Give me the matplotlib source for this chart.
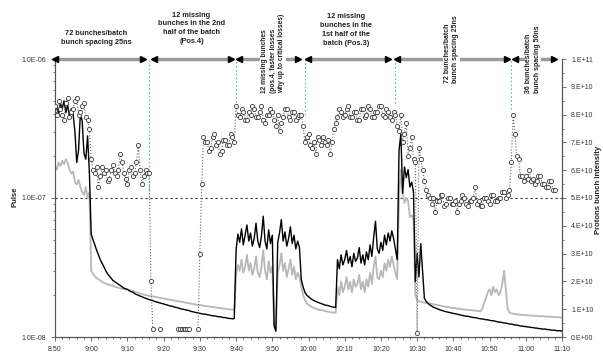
import numpy as np
import matplotlib
matplotlib.use("Agg")
import matplotlib.pyplot as plt
from matplotlib import ticker
import matplotlib.transforms as mtransforms

plt.rcParams['font.family'] = ['Liberation Sans', 'DejaVu Sans']

# pressure readings every 0.5 min from 8:50, in units of 1e-8
p_black = [
    42, 46, 40, 48, 44, 50, 41, 47, 38, 44,
    40, 30, 18, 22, 40, 36, 21, 19, 28, 15,
    5.5, 5.0, 4.6, 4.2, 3.9, 3.6, 3.4, 3.2, 3.0, 2.85,
    2.75, 2.65, 2.55, 2.5, 2.45, 2.4, 2.35, 2.3, 2.25, 2.22,
    2.2, 2.15, 2.12, 2.1, 2.05, 2.02, 2.0, 1.97, 1.95, 1.92,
    1.9, 1.88, 1.86, 1.84, 1.83, 1.8, 1.79, 1.77, 1.76, 1.74,
    1.73, 1.71, 1.7, 1.68, 1.67, 1.66, 1.64, 1.63, 1.62, 1.6,
    1.59, 1.58, 1.57, 1.56, 1.55, 1.53, 1.52, 1.51, 1.5, 1.49,
    1.48, 1.47, 1.46, 1.46, 1.45, 1.44, 1.43, 1.42, 1.42, 1.41,
    1.4, 1.4, 1.39, 1.38, 1.38, 1.37, 1.36, 1.36, 1.35, 1.36,
    4.2, 5.5, 4.8, 6.0, 4.6, 5.4, 6.4, 4.9, 5.6, 4.5,
    5.1, 6.6, 4.9, 4.4, 5.3, 7.4, 4.9, 4.3, 5.9, 4.7,
    5.4, 1.2, 1.1, 4.8, 5.6, 7.0, 4.9, 5.7, 4.5, 5.1,
    6.2, 4.7, 5.4, 4.3, 4.9, 4.4, 2.6, 2.3, 2.1, 2.0,
    1.95, 1.9, 1.86, 1.83, 1.8, 1.78, 1.76, 1.74, 1.72, 1.7,
    1.69, 1.68, 1.66, 1.65, 1.64, 1.63, 3.6, 3.1, 3.9, 3.3,
    3.6, 4.2, 3.4, 3.8, 3.2, 4.0, 3.5, 3.7, 4.4, 3.4,
    3.9, 3.3, 4.1, 3.6, 4.6, 3.8, 5.2, 6.8, 4.3, 4.0,
    4.8, 4.2, 5.4, 4.6, 5.6, 4.9, 5.8, 5.1, 4.3, 3.6,
    22, 29, 10.8, 16.7, 14, 16, 12, 13, 11, 2.5,
    4.0, 2.7, 4.7, 3.0, 1.9, 1.8, 1.75, 1.7, 1.67, 1.64,
    1.62, 1.6, 1.58, 1.56, 1.55, 1.53, 1.52, 1.51, 1.5, 1.49,
    1.48, 1.47, 1.46, 1.45, 1.44, 1.43, 1.42, 1.41, 1.41, 1.4,
    1.39, 1.38, 1.38, 1.37, 1.36, 1.35, 1.35, 1.34, 1.33, 1.33,
    1.32, 1.31, 1.31, 1.3, 1.29, 1.28, 1.28, 1.27, 1.26, 1.26,
    1.25, 1.24, 1.24, 1.23, 1.22, 1.22, 1.21, 1.2, 1.2, 1.19,
    1.19, 1.18, 1.18, 1.17, 1.17, 1.16, 1.16, 1.15, 1.15, 1.14,
    1.14, 1.14, 1.13, 1.13, 1.12, 1.12, 1.12, 1.11, 1.11, 1.11,
    1.1,
]
p_gray = [
    17, 16, 18, 17, 18.5, 17.5, 19, 18, 16, 15,
    15.5, 13, 12.5, 13.5, 12, 11, 10.5, 12, 10, 11,
    3.0, 2.85, 2.75, 2.65, 2.6, 2.55, 2.5, 2.45, 2.42, 2.4,
    2.37, 2.35, 2.33, 2.3, 2.28, 2.26, 2.24, 2.22, 2.21, 2.2,
    2.2, 2.18, 2.16, 2.14, 2.12, 2.1, 2.08, 2.06, 2.04, 2.02,
    2.0, 1.99, 1.98, 1.97, 1.96, 1.95, 1.94, 1.92, 1.91, 1.9,
    1.89, 1.88, 1.87, 1.86, 1.85, 1.84, 1.83, 1.82, 1.81, 1.8,
    1.79, 1.78, 1.77, 1.76, 1.75, 1.74, 1.73, 1.72, 1.71, 1.7,
    1.7, 1.69, 1.68, 1.67, 1.66, 1.66, 1.65, 1.64, 1.64, 1.63,
    1.62, 1.62, 1.61, 1.6, 1.6, 1.59, 1.58, 1.58, 1.57, 1.57,
    2.8, 3.3, 3.0, 3.6, 2.9, 3.2, 3.9, 3.0, 3.4, 2.8,
    3.1, 3.8, 2.9, 2.7, 3.2, 4.2, 3.0, 2.6, 3.5, 2.9,
    3.2, 1.25, 1.15, 2.9, 3.3, 4.0, 3.0, 3.4, 2.7, 3.1,
    3.6, 2.8, 3.2, 2.6, 2.9, 2.7, 2.3, 2.0, 1.85, 1.75,
    1.7, 1.67, 1.64, 1.62, 1.6, 1.58, 1.57, 1.56, 1.55, 1.54,
    1.53, 1.52, 1.51, 1.5, 1.5, 1.49, 2.3, 2.0, 2.5, 2.1,
    2.3, 2.7, 2.2, 2.5, 2.1, 2.6, 2.3, 2.4, 2.8, 2.2,
    2.5, 2.1, 2.6, 2.3, 2.9, 2.4, 3.2, 3.8, 2.7, 2.6,
    3.0, 2.7, 3.4, 3.0, 3.6, 3.2, 3.8, 3.3, 2.9, 2.6,
    10, 16, 10.8, 9.2, 10, 9.5, 7.3, 7.5, 7.0, 2.0,
    1.85, 1.8, 1.8, 1.78, 1.77, 1.76, 1.75, 1.74, 1.73, 1.72,
    1.71, 1.7, 1.69, 1.68, 1.67, 1.66, 1.65, 1.64, 1.63, 1.62,
    1.62, 1.61, 1.6, 1.6, 1.59, 1.58, 1.58, 1.57, 1.57, 1.56,
    1.56, 1.55, 1.55, 1.54, 1.54, 1.53, 1.6, 1.75, 1.9, 2.1,
    2.2, 2.0, 2.3, 2.1, 2.2, 2.0, 2.1, 2.4, 3.0, 2.2,
    1.6, 1.5, 1.48, 1.47, 1.46, 1.46, 1.45, 1.45, 1.44, 1.44,
    1.44, 1.43, 1.43, 1.43, 1.42, 1.42, 1.42, 1.41, 1.41, 1.41,
    1.41, 1.4, 1.4, 1.4, 1.4, 1.39, 1.39, 1.39, 1.39, 1.38,
    1.38,
]

# bunch intensity every 0.5 min from 8:50, in units of 1e10 protons
nan = float('nan')
intensity = [
    8.3, 8.0, 8.5, 8.2, 8.0, 7.8, 8.4, 8.6, 7.9, 8.1,
    8.2, 8.5, 8.6, 8.0, 8.1, 8.3, 8.4, 7.9, 7.8, 7.5,
    6.4, 6.0, 5.9, 6.1, 5.4, 5.8, 6.1, 5.9, 6.0, 5.6,
    5.7, 6.0, 6.2, 5.9, 5.8, 6.0, 6.6, 6.3, 5.9, 5.7,
    5.5, 6.0, 6.1, 5.8, 5.9, 6.3, 6.9, 6.0, 5.5, 5.8,
    6.0, 5.9, 5.9, 2.0, 0.3, nan, nan, nan, 0.3, nan,
    nan, nan, nan, nan, nan, nan, nan, nan, 0.3, 0.3,
    0.3, 0.3, 0.3, 0.3, 0.3, nan, nan, nan, nan, 0.3,
    3.0, 5.5, 7.2, 7.0, 7.0, 6.7, 6.8, 7.2, 7.3, 6.9,
    7.0, 6.6, 6.7, 7.1, 7.1, 6.9, 6.9, 7.3, 7.2, 7.0,
    8.3, 8.0, 7.9, 8.2, 8.1, 7.8, 7.8, 8.1, 8.0, 8.3,
    8.2, 7.9, 7.9, 8.1, 8.3, 7.8, 7.7, 8.0, 8.0, 8.2,
    8.1, 7.8, 7.6, 8.0, 7.4, 7.7, 7.9, 8.2, 8.2, 7.9,
    7.8, 8.1, 8.1, 7.8, 7.9, 8.0, 8.0, 7.6, 7.0, 7.2,
    7.3, 6.9, 6.8, 7.0, 6.6, 7.2, 7.1, 6.9, 7.2, 7.0,
    6.9, 7.1, 6.6, 7.0, 7.5, 7.7, 7.9, 8.2, 8.1, 7.9,
    8.0, 8.2, 8.3, 7.9, 7.9, 8.1, 8.1, 7.8, 7.8, 8.2,
    8.2, 7.9, 8.0, 8.3, 8.2, 7.9, 7.9, 8.1, 8.1, 8.3,
    8.3, 8.0, 7.9, 8.2, 8.1, 7.9, 7.8, 8.1, 8.0, 7.6,
    7.4, 8.0, 7.0, 7.3, 7.7, 6.5, 6.8, 7.2, 6.4, 6.3,
    0.15, 6.8, 6.4, 6.0, 5.6, 5.3, 5.1, 5.0, 4.8, 5.0,
    4.5, 4.9, 4.9, 5.1, 5.1, 4.7, 4.8, 5.0, 5.0, 4.8,
    4.8, 4.9, 4.5, 4.8, 4.9, 5.1, 5.0, 4.8, 4.7, 4.9,
    4.9, 5.0, 5.4, 4.8, 4.9, 4.7, 4.7, 5.0, 5.0, 4.9,
    4.8, 5.1, 5.1, 4.9, 4.9, 5.0, 5.0, 5.2, 5.2, 5.0,
    5.1, 5.3, 6.3, 8.0, 7.3, 6.5, 6.4, 5.8, 5.8, 5.6,
    5.8, 5.7, 6.0, 5.6, 5.7, 5.5, 5.6, 5.8, 5.8, 5.5,
    5.5, 5.4, 5.4, 5.6, 5.6, 5.3, 5.3,
]

tick_labels = ["8:50", "9:00", "9:10", "9:20", "9:30", "9:40", "9:50", "10:00",
               "10:10", "10:20", "10:30", "10:40", "10:50", "11:00", "11:10"]

# filling-scheme changes (minutes after 8:50) and where the marker lines stop
change_times = [26, 50, 69, 94, 126]
change_levels = [5.0, 8.3, 8.0, 8.4, 8.2]

# arrows along the top: (start, end) in minutes
periods = [(0, 24.4), (27.2, 48.5), (50.7, 67.0), (69.9, 92.0), (94.5, 124.8), (127.0, 137.8)]
notes = [
    "72 bunches/batch\nbunch spacing 25ns",
    "12 missing\nbunches in the 2nd\nhalf of the batch\n(Pos.4)",
    "12 missing bunches\n(pos.4, faster losses\nwhy up to critical losses)",
    "12 missing\nbunches in the\n1st half of the\nbatch (Pos.3)",
    "72 bunches/batch\nbunch spacing 25ns",
    "36 bunches/batch\nbunch spacing 50ns",
]

t_p = np.arange(len(p_black)) * 0.5
t_i = np.arange(len(intensity)) * 0.5

fig = plt.figure(figsize=(6.03, 3.56), dpi=100)
ax = fig.add_axes([55 / 603, 19 / 356, 507 / 603, 278 / 356])
ax2 = ax.twinx()

ax.plot(t_p, np.array(p_gray) * 1e-8, color='#b8b8b8', lw=1.3, zorder=2)
ax.plot(t_p, np.array(p_black) * 1e-8, color='black', lw=1.0, zorder=3)
ax.axhline(1e-7, color='#333333', ls=(0, (2, 2.5)), lw=0.8, zorder=1)

ax.set_yscale('log')
ax.set_ylim(1e-8, 1e-6)
ax.set_xlim(0, 140)
ax.set_xticks(np.arange(0, 141, 10))
ax.set_xticklabels(tick_labels)
ax.xaxis.set_minor_locator(ticker.MultipleLocator(2))
ax.yaxis.set_major_locator(ticker.FixedLocator([1e-8, 1e-7, 1e-6]))
ax.yaxis.set_major_formatter(ticker.FixedFormatter(["1.0E-08", "1.0E-07", "1.0E-06"]))
ax.yaxis.set_minor_locator(ticker.LogLocator(base=10, subs=np.arange(2, 10)))
ax.yaxis.set_minor_formatter(ticker.NullFormatter())

ax2.plot(t_i, np.array(intensity) * 1e10, color='#666666', ls=':', lw=0.8,
         marker='o', ms=3.0, mfc='white', mec='#3a3a3a', mew=0.6, zorder=4)
ax2.vlines(change_times, np.array(change_levels) * 1e10, 1e11,
           colors='#3cbfb4', linestyles=(0, (1.5, 2)), lw=0.8)
ax2.set_ylim(0, 1e11)
ax2.set_yticks(np.arange(0, 1.01e11, 1e10))
ax2.set_yticklabels(["0.E+00"] + [f"{i}.E+10" for i in range(1, 10)] + ["1.E+11"])
ax2.yaxis.set_minor_locator(ticker.MultipleLocator(5e9))

for a in (ax, ax2):
    a.spines['top'].set_visible(False)
    for s in a.spines.values():
        s.set_color('#555555')
        s.set_linewidth(0.8)
    a.tick_params(which='both', labelsize=5, colors='#555555', labelcolor='#333333', width=0.6)
    a.tick_params(which='major', length=3)
    a.tick_params(which='minor', length=1.5)

# top arrows with notes
trans = mtransforms.blended_transform_factory(ax2.transData, ax2.transAxes)
for a, b in periods:
    ax2.plot([a, b], [1, 1], color='#9a9a9a', lw=2.5, transform=trans, clip_on=False, zorder=6)
    ax2.plot([a], [1], marker='<', color='black', ms=4.5, transform=trans, clip_on=False, zorder=7)
    ax2.plot([b], [1], marker='>', color='black', ms=4.5, transform=trans, clip_on=False, zorder=7)

box = dict(facecolor='white', edgecolor='none', pad=0.5)
ax2.text(11.4, 1.076, notes[0], transform=trans, ha='center', va='center',
         fontsize=5.3, fontweight='bold', linespacing=1.35, color='#222222')
ax2.text(37.7, 1.111, notes[1], transform=trans, ha='center', va='center',
         fontsize=5.3, fontweight='bold', linespacing=1.35, color='#222222')
ax2.text(60.2, 0.878, notes[2], transform=trans, ha='center', va='bottom', rotation=90,
         fontsize=4.8, fontweight='bold', linespacing=1.3, color='#222222',
         multialignment='left', bbox=box, zorder=8)
ax2.text(80.4, 1.104, notes[3], transform=trans, ha='center', va='center',
         fontsize=5.3, fontweight='bold', linespacing=1.35, color='#222222')
ax2.text(109.5, 0.912, notes[4], transform=trans, ha='center', va='bottom', rotation=90,
         fontsize=5.0, fontweight='bold', linespacing=1.3, color='#222222',
         multialignment='left', bbox=box, zorder=8)
ax2.text(132.0, 0.878, notes[5], transform=trans, ha='center', va='bottom', rotation=90,
         fontsize=5.0, fontweight='bold', linespacing=1.3, color='#222222',
         multialignment='left', bbox=box, zorder=8)

fig.text(15 / 603, 1 - 197 / 356, "Pulse", rotation=90, ha='center', va='center',
         fontsize=5.5, fontweight='bold', color='#222222')
fig.text(598 / 603, 1 - 190 / 356, "Protons bunch intensity", rotation=90, ha='center',
         va='center', fontsize=5.5, fontweight='bold', color='#222222')

fig.savefig("out.png", dpi=100)
